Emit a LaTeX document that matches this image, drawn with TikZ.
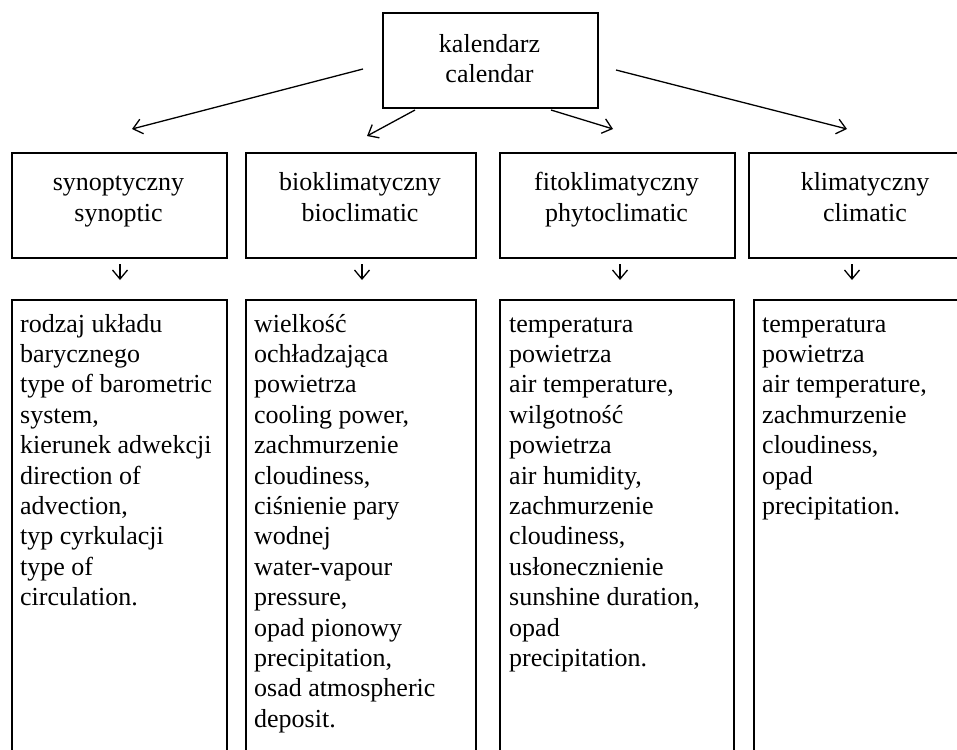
\documentclass[tikz,border=0pt]{standalone}
\usepackage{fontspec}
\setmainfont{Liberation Serif}
\usetikzlibrary{arrows.meta}

\tikzset{
  box/.style={draw,line width=2pt,inner sep=0pt,anchor=north west},
  txt/.style={inner sep=0pt,font=\fontsize{26}{30.4}\selectfont},
  arr/.style={-{Straight Barb[length=9pt,width=15pt]},line width=1.3pt},
}

\begin{document}
\begin{tikzpicture}[x=1pt,y=-1pt]
  \useasboundingbox (0,0) rectangle (957,749);
  \clip (0,0) rectangle (957,749);
  % top box
  \node[box,minimum width=215,minimum height=95] (cal) at (382,12) {};
  \node[txt,align=center,anchor=base] (calt) at (489.5,83) {kalendarz\\calendar};
  % middle row (anchor base = last line)
  \node[box,minimum width=215,minimum height=105] (syn) at (11,152) {};
  \node[box,minimum width=230,minimum height=105] (bio) at (245,152) {};
  \node[box,minimum width=235,minimum height=105] (fit) at (499,152) {};
  \node[box,minimum width=235,minimum height=105] (kli) at (748,152) {};
  \node[txt,align=center,anchor=base] (synt) at (118.5,221) {synoptyczny\\synoptic};
  \node[txt,align=center,anchor=base] (biot) at (360,221) {bioklimatyczny\\bioclimatic};
  \node[txt,align=center,anchor=base] (fitt) at (616.5,221) {fitoklimatyczny\\phytoclimatic};
  \node[txt,align=center,anchor=base] (klit) at (865,221) {klimatyczny\\climatic};
  % bottom row
  \node[box,minimum width=215,minimum height=480] (synb) at (11,299) {};
  \node[box,minimum width=230,minimum height=480] (biob) at (245,299) {};
  \node[box,minimum width=234,minimum height=480] (fitb) at (499,299) {};
  \node[box,minimum width=235,minimum height=480] (klib) at (753,299) {};
  \node[txt,align=left,anchor=base west] (synl) at (20,605.6) {rodzaj układu\\barycznego\\type of barometric\\system,\\kierunek adwekcji\\direction of\\advection,\\typ cyrkulacji\\type of\\circulation.};
  \node[txt,align=left,anchor=base west] (biol) at (254,727.2) {wielkość\\ochładzająca\\powietrza\\cooling power,\\zachmurzenie\\cloudiness,\\ciśnienie pary\\wodnej\\water-vapour\\pressure,\\opad pionowy\\precipitation,\\osad atmospheric\\deposit.};
  \node[txt,align=left,anchor=base west] (fitl) at (509,666.4) {temperatura\\powietrza\\air temperature,\\wilgotność\\powietrza\\air humidity,\\zachmurzenie\\cloudiness,\\usłonecznienie\\sunshine duration,\\opad\\precipitation.};
  \node[txt,align=left,anchor=base west] (klil) at (762,514.4) {temperatura\\powietrza\\air temperature,\\zachmurzenie\\cloudiness,\\opad\\precipitation.};
  % arrow ends
  \coordinate (s1) at (363,69);  \coordinate (e1) at (132,129);
  \coordinate (s2) at (415,110); \coordinate (e2) at (367,136);
  \coordinate (s3) at (551,110); \coordinate (e3) at (613,129);
  \coordinate (s4) at (616,70);  \coordinate (e4) at (847,129);
  \draw[arr] (s1) -- (e1);
  \draw[arr] (s2) -- (e2);
  \draw[arr] (s3) -- (e3);
  \draw[arr] (s4) -- (e4);
  \foreach \n/\x in {syn/120,bio/362,fit/620,kli/852}{
    \coordinate (\n s) at (\x,264); \coordinate (\n e) at (\x,280);
    \draw[arr] (\n s) -- (\n e);
  }
\end{tikzpicture}
\end{document}
